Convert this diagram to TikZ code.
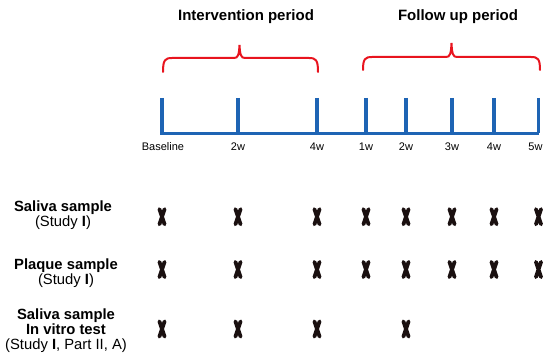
\documentclass[tikz,border=0pt]{standalone}
\usepackage{fontspec}
\setmainfont{Liberation Sans}
\definecolor{axisblue}{HTML}{1E64B4}
\definecolor{bracered}{HTML}{E8141E}
\definecolor{markblack}{HTML}{1A1010}
\tikzstyle{title}=[font=\bfseries\fontsize{15}{17}\selectfont]
\tikzstyle{tick}=[draw=axisblue,line width=3.6pt]
\tikzstyle{ticklabel}=[font=\fontsize{11}{13}\selectfont,inner sep=0pt]
\tikzstyle{rowlabel}=[align=center,font=\fontsize{14.8}{15}\selectfont,inner sep=0pt]
\tikzstyle{period}=[draw=bracered,line width=2pt,line cap=round]
\tikzset{xmark/.pic={\draw[markblack,line width=3.8pt,line cap=round] (-2.6,-7.6) -- (2.6,7.6) (-2.6,7.6) -- (2.6,-7.6);}}

\begin{document}
\begin{tikzpicture}[x=1pt,y=-1pt]
\useasboundingbox (0,0) rectangle (544,358);
% time axis
\foreach \n/\x/\lx/\t in {b/162/163/Baseline,i2/238/238/2w,i4/317/317/4w,f1/366/366/1w,f2/406/406/2w,f3/452/452/3w,f4/494/494/4w,f5/538.5/535.5/5w} {
  \coordinate (\n) at (\x,133.5);
  \coordinate (\n top) at (\x,98);
  \node[ticklabel] (\n label) at (\lx,147) {\t};
}
\draw[tick] (b) ++(-2,0) -- (f5);
\foreach \n in {b,i2,i4,f1,f2,f3,f4,f5}
  \draw[tick] (\n top) -- (\n);

% periods
\node[title] (intervention) at (246,17) {Intervention period};
\node[title] (followup)     at (458,17) {Follow up period};
\draw[period] (163,72) .. controls (163,60) and (165,58) .. (172,58)
  -- (234,58) .. controls (238,58) and (239,55) .. (239.5,45)
  .. controls (240,55) and (241,58) .. (245,58)
  -- (309,58) .. controls (316,58) and (318,60) .. (318,72);
\draw[period] (363,70) .. controls (363,59) and (365,57) .. (372,57)
  -- (446,57) .. controls (450,57) and (451,54) .. (451.5,43)
  .. controls (452,54) and (453,57) .. (457,57)
  -- (531,57) .. controls (538,57) and (540,59) .. (540,70);

% samples
\node[rowlabel] (saliva) at (63,215) {\textbf{Saliva sample}\\(Study \textbf{I})};
\node[rowlabel] (plaque) at (66,273) {\textbf{Plaque sample}\\(Study \textbf{I})};
\node[rowlabel] (vitro)  at (66,331) {\textbf{Saliva sample}\\\textbf{In vitro test}\\(Study \textbf{I}, Part II, A)};
\foreach \n in {b,i2,i4,f1,f2,f3,f4,f5} {
  \pic at ([yshift=-1.7pt]\n |- saliva) {xmark};
  \pic at ([yshift=3.5pt]\n |- plaque) {xmark};
}
\foreach \n in {b,i2,i4,f2}
  \pic at ([yshift=2pt]\n |- vitro) {xmark};
\end{tikzpicture}
\end{document}
